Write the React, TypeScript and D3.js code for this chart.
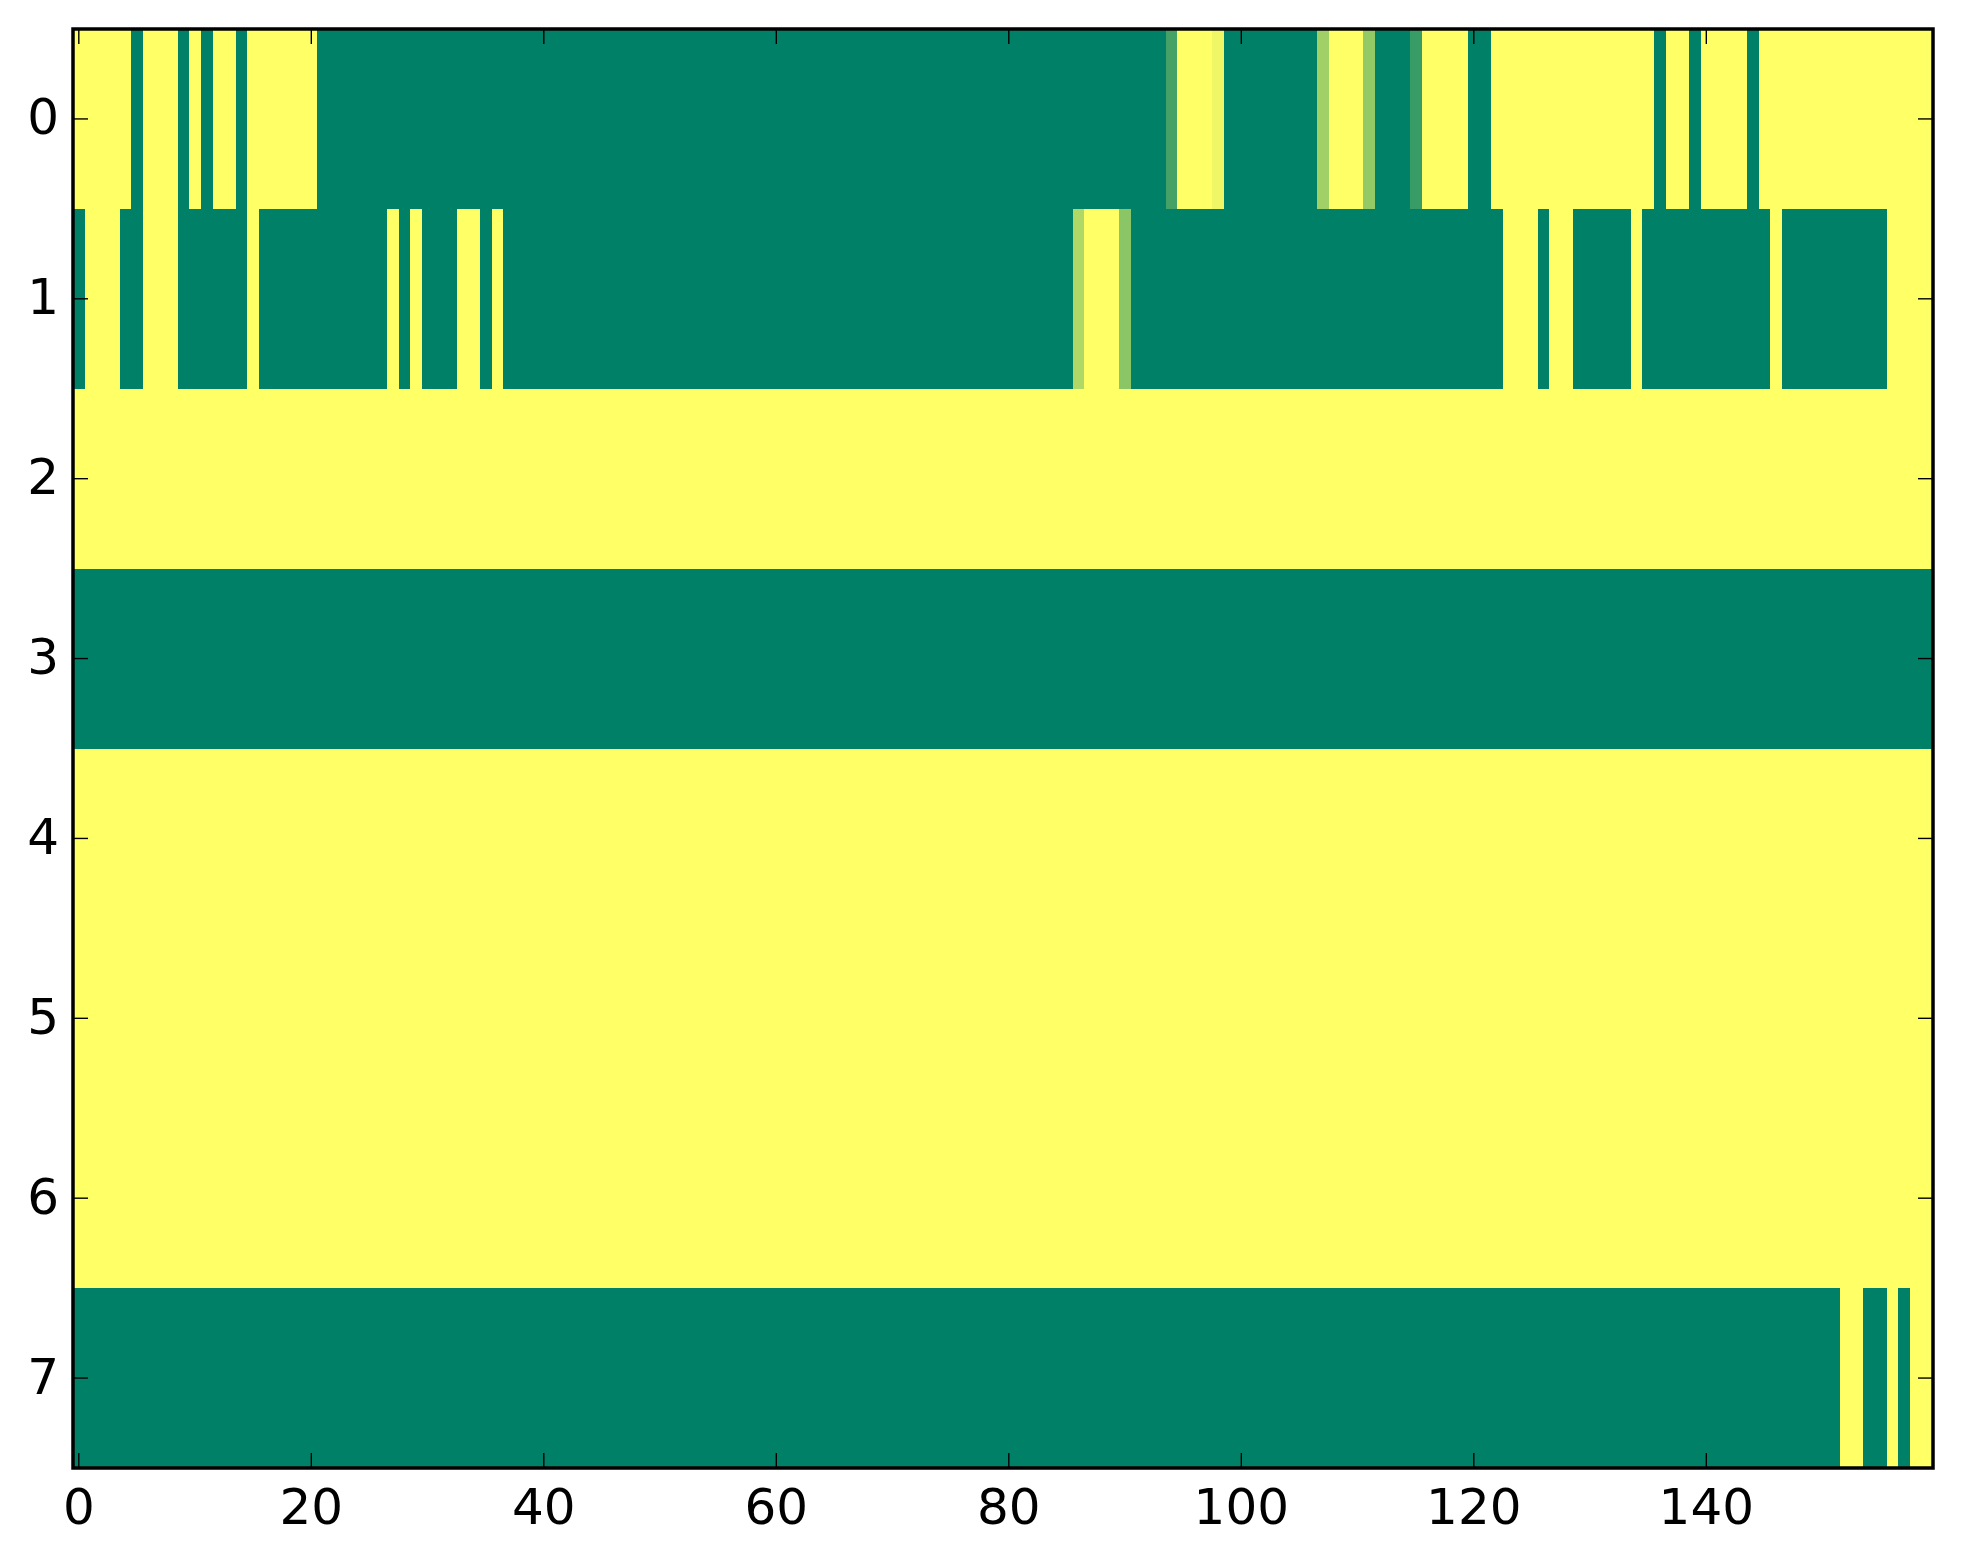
import React from "react";
import * as d3 from "d3";

// Each row of the image, written as [value, number of consecutive columns]
const row0Runs: [number, number][] = [
  [1, 5], [0, 1], [1, 3], [0, 1], [1, 1], [0, 1], [1, 2], [0, 1], [1, 6], [0, 73],
  [0.27, 1], [1, 3], [0.94, 1], [0, 8], [0.63, 1], [1, 3], [0.58, 1], [0, 3], [0.22, 1],
  [1, 4], [0, 2], [1, 14], [0, 1], [1, 2], [0, 1], [1, 4], [0, 1], [1, 15],
];
const row1Runs: [number, number][] = [
  [0, 1], [1, 3], [0, 2], [1, 3], [0, 6], [1, 1], [0, 11], [1, 1], [0, 1], [1, 1],
  [0, 3], [1, 2], [0, 1], [1, 1], [0, 49], [0.69, 1], [1, 3], [0.54, 1], [0, 32],
  [1, 3], [0, 1], [1, 2], [0, 5], [1, 1], [0, 11], [1, 1], [0, 9], [1, 4],
];
const row2Runs: [number, number][] = [[1, 160]];
const row3Runs: [number, number][] = [[0, 160]];
const row4Runs: [number, number][] = [[1, 160]];
const row5Runs: [number, number][] = [[1, 160]];
const row6Runs: [number, number][] = [[1, 160]];
const row7Runs: [number, number][] = [[0, 152], [1, 2], [0, 2], [1, 1], [0, 1], [1, 2]];

const rowsRuns = [row0Runs, row1Runs, row2Runs, row3Runs, row4Runs, row5Runs, row6Runs, row7Runs];

const xTicks = [0, 20, 40, 60, 80, 100, 120, 140];
const yTicks = [0, 1, 2, 3, 4, 5, 6, 7];

const NCOLS = 160;

function expand(runs: [number, number][]): number[] {
  const out: number[] = [];
  runs.forEach(([v, n]) => {
    for (let i = 0; i < n; i++) out.push(v);
  });
  return out;
}

const matrix = rowsRuns.map(expand);

const W = 1963;
const H = 1564;
const left = 73;
const right = 1933;
const top = 29;
const bottom = 1468;

export default function App() {
  const x = d3.scaleLinear().domain([-0.5, NCOLS - 0.5]).range([left, right]);
  const y = d3.scaleLinear().domain([-0.5, 7.5]).range([top, bottom]);
  const color = d3.scaleLinear<string>().domain([0, 1]).range(["#008066", "#ffff66"]).interpolate(d3.interpolateRgb);

  const cells: JSX.Element[] = [];
  matrix.forEach((row, r) => {
    row.forEach((v, c) => {
      const x0 = x(c - 0.5);
      const x1 = x(c + 0.5);
      const y0 = y(r - 0.5);
      const y1 = y(r + 0.5);
      cells.push(
        <rect key={`${r}-${c}`} x={x0} y={y0} width={x1 - x0 + 0.6} height={y1 - y0 + 0.6} fill={color(v)} shapeRendering="crispEdges" />
      );
    });
  });

  const tickLen = 15;
  const font = "DejaVu Sans, sans-serif";
  const fs = 50;

  return (
    <svg width={W} height={H} style={{ position: "absolute", left: 0, top: 0, background: "#fff" }}>
      <rect x={0} y={0} width={W} height={H} fill="#fff" />
      <g>{cells}</g>
      {xTicks.map((t) => (
        <g key={`xt${t}`}>
          <line x1={x(t)} x2={x(t)} y1={bottom} y2={bottom - tickLen} stroke="#000" strokeWidth={1.4} />
          <line x1={x(t)} x2={x(t)} y1={top} y2={top + tickLen} stroke="#000" strokeWidth={1.4} />
          <text x={x(t)} y={1524} textAnchor="middle" fontFamily={font} fontSize={fs} fill="#000">
            {t}
          </text>
        </g>
      ))}
      {yTicks.map((t) => (
        <g key={`yt${t}`}>
          <line x1={left} x2={left + tickLen} y1={y(t)} y2={y(t)} stroke="#000" strokeWidth={1.4} />
          <line x1={right} x2={right - tickLen} y1={y(t)} y2={y(t)} stroke="#000" strokeWidth={1.4} />
          <text x={left - 14} y={y(t)} dy="0.31em" textAnchor="end" fontFamily={font} fontSize={fs} fill="#000">
            {t}
          </text>
        </g>
      ))}
      <rect x={left} y={top} width={right - left} height={bottom - top} fill="none" stroke="#000" strokeWidth={3.5} />
    </svg>
  );
}
